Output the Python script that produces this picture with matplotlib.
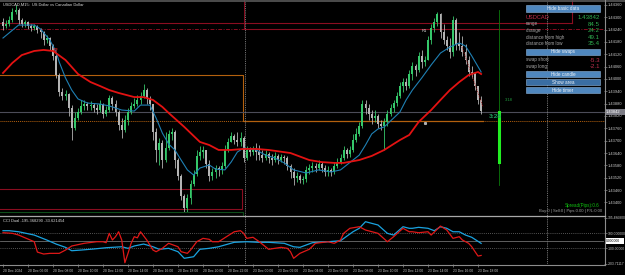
import matplotlib
matplotlib.use('Agg')
import matplotlib.pyplot as plt
from matplotlib.patches import Rectangle

plt.rcParams['font.family'] = ['Liberation Sans', 'DejaVu Sans']

W, H = 625, 275  # figure size in pixels

# USDCAD M15 bars, 20 Dec 04:00 .. 23 Dec 18:15 (open = previous close)
first_open = 1.44277
close = [1.44257, 1.44267, 1.44287, 1.44325, 1.44335, 1.44287, 1.44267, 1.44277, 1.44257, 1.44248,
         1.44257, 1.44238, 1.44228, 1.44189, 1.44199, 1.44160, 1.44112, 1.44019, 1.43937, 1.43917,
         1.43927, 1.43859, 1.43762, 1.43810, 1.43839, 1.43869, 1.43878, 1.43869, 1.43874, 1.43859,
         1.43849, 1.43878, 1.43830, 1.43849, 1.43908, 1.43878, 1.43839, 1.43776, 1.43752, 1.43801,
         1.43839, 1.43869, 1.43878, 1.43898, 1.43917, 1.43946, 1.43908, 1.43878, 1.43742, 1.43655,
         1.43689, 1.43606, 1.43664, 1.43733, 1.43742, 1.43606, 1.43528, 1.43431, 1.43373, 1.43421,
         1.43490, 1.43538, 1.43626, 1.43645, 1.43655, 1.43587, 1.43528, 1.43548, 1.43567, 1.43558,
         1.43577, 1.43655, 1.43694, 1.43723, 1.43703, 1.43694, 1.43713, 1.43616, 1.43655, 1.43645,
         1.43655, 1.43645, 1.43630, 1.43616, 1.43635, 1.43616, 1.43606, 1.43626, 1.43606, 1.43621,
         1.43616, 1.43577, 1.43548, 1.43519, 1.43528, 1.43509, 1.43514, 1.43558, 1.43567, 1.43577,
         1.43567, 1.43587, 1.43567, 1.43548, 1.43558, 1.43548, 1.43577, 1.43596, 1.43616, 1.43655,
         1.43635, 1.43655, 1.43703, 1.43733, 1.43771, 1.43878, 1.43859, 1.43830, 1.43810, 1.43820,
         1.43781, 1.43771, 1.43791, 1.43830, 1.43859, 1.43883, 1.43917, 1.43966, 1.43985, 1.43966,
         1.44024, 1.44063, 1.44044, 1.44112, 1.44082, 1.44092, 1.44189, 1.44248, 1.44277, 1.44316,
         1.44228, 1.44189, 1.44160, 1.44131, 1.44287, 1.44170, 1.44160, 1.44131, 1.44092, 1.44034,
         1.44024, 1.43966, 1.43898, 1.43842]
high = [1.44296, 1.44287, 1.44306, 1.44345, 1.44360, 1.44345, 1.44296, 1.44287, 1.44282, 1.44267,
        1.44267, 1.44262, 1.44248, 1.44233, 1.44214, 1.44204, 1.44170, 1.44121, 1.44029, 1.43956,
        1.43946, 1.43932, 1.43873, 1.43839, 1.43859, 1.43898, 1.43898, 1.43888, 1.43893, 1.43883,
        1.43878, 1.43898, 1.43883, 1.43869, 1.43922, 1.43917, 1.43898, 1.43849, 1.43810, 1.43825,
        1.43859, 1.43888, 1.43908, 1.43922, 1.43937, 1.43976, 1.43956, 1.43917, 1.43878, 1.43762,
        1.43713, 1.43703, 1.43742, 1.43752, 1.43762, 1.43752, 1.43616, 1.43538, 1.43441, 1.43441,
        1.43509, 1.43558, 1.43655, 1.43674, 1.43674, 1.43655, 1.43606, 1.43567, 1.43582, 1.43577,
        1.43596, 1.43679, 1.43713, 1.43742, 1.43733, 1.43742, 1.43742, 1.43723, 1.43674, 1.43669,
        1.43674, 1.43689, 1.43679, 1.43655, 1.43655, 1.43645, 1.43635, 1.43645, 1.43635, 1.43635,
        1.43630, 1.43626, 1.43587, 1.43567, 1.43548, 1.43538, 1.43528, 1.43577, 1.43587, 1.43596,
        1.43592, 1.43606, 1.43596, 1.43582, 1.43577, 1.43567, 1.43596, 1.43616, 1.43635, 1.43674,
        1.43664, 1.43674, 1.43733, 1.43762, 1.43791, 1.43898, 1.43898, 1.43878, 1.43849, 1.43849,
        1.43830, 1.43801, 1.43810, 1.43849, 1.43878, 1.43898, 1.43937, 1.43985, 1.44005, 1.44005,
        1.44044, 1.44082, 1.44073, 1.44131, 1.44141, 1.44112, 1.44209, 1.44267, 1.44296, 1.44325,
        1.44321, 1.44267, 1.44209, 1.44199, 1.44306, 1.44296, 1.44228, 1.44209, 1.44170, 1.44112,
        1.44063, 1.44034, 1.43966, 1.43917]
low = [1.44238, 1.44248, 1.44257, 1.44277, 1.44316, 1.44267, 1.44253, 1.44253, 1.44243, 1.44233,
       1.44238, 1.44223, 1.44199, 1.44165, 1.44175, 1.44141, 1.44092, 1.44005, 1.43917, 1.43898,
       1.43898, 1.43820, 1.43703, 1.43752, 1.43801, 1.43830, 1.43849, 1.43849, 1.43849, 1.43839,
       1.43830, 1.43839, 1.43810, 1.43820, 1.43839, 1.43849, 1.43820, 1.43752, 1.43713, 1.43742,
       1.43776, 1.43830, 1.43859, 1.43869, 1.43878, 1.43908, 1.43878, 1.43849, 1.43703, 1.43596,
       1.43582, 1.43567, 1.43596, 1.43655, 1.43703, 1.43567, 1.43509, 1.43412, 1.43349, 1.43353,
       1.43392, 1.43480, 1.43528, 1.43606, 1.43616, 1.43567, 1.43504, 1.43509, 1.43519, 1.43528,
       1.43538, 1.43567, 1.43645, 1.43694, 1.43684, 1.43674, 1.43674, 1.43596, 1.43606, 1.43626,
       1.43630, 1.43606, 1.43606, 1.43596, 1.43606, 1.43592, 1.43582, 1.43596, 1.43587, 1.43596,
       1.43587, 1.43558, 1.43519, 1.43485, 1.43499, 1.43494, 1.43490, 1.43499, 1.43538, 1.43548,
       1.43548, 1.43558, 1.43548, 1.43528, 1.43528, 1.43528, 1.43538, 1.43567, 1.43587, 1.43606,
       1.43616, 1.43621, 1.43645, 1.43694, 1.43723, 1.43762, 1.43830, 1.43801, 1.43781, 1.43791,
       1.43762, 1.43752, 1.43655, 1.43771, 1.43820, 1.43839, 1.43869, 1.43908, 1.43937, 1.43946,
       1.43956, 1.43995, 1.44014, 1.44034, 1.44053, 1.44063, 1.44092, 1.44170, 1.44228, 1.44257,
       1.44199, 1.44170, 1.44141, 1.44102, 1.44112, 1.44141, 1.44141, 1.44112, 1.44073, 1.44014,
       1.44005, 1.43946, 1.43878, 1.43830]

# moving averages read at selected bars
blue_idx = [0, 5, 10, 12, 15, 17, 18, 20, 22, 24, 27, 31, 34, 38, 42, 44, 47, 49, 51, 53,
            55, 57, 59, 61, 63, 66, 68, 71, 73, 75, 77, 81, 84, 87, 90, 93, 97, 101, 105, 108,
            110, 112, 114, 116, 118, 120, 122, 125, 127, 129, 131, 134, 137, 140, 143, 146, 148, 150, 153]
blue_ma = [1.44199, 1.44262, 1.44262, 1.44243, 1.44189, 1.44131, 1.44082, 1.44005, 1.43946, 1.43903,
           1.43883, 1.43878, 1.43869, 1.43849, 1.43844, 1.43873, 1.43873, 1.43810, 1.43737, 1.43684,
           1.43655, 1.43606, 1.43558, 1.43533, 1.43567, 1.43582, 1.43562, 1.43558, 1.43596, 1.43645,
           1.43664, 1.43655, 1.43630, 1.43616, 1.43592, 1.43558, 1.43543, 1.43558, 1.43548, 1.43558,
           1.43582, 1.43606, 1.43630, 1.43679, 1.43733, 1.43757, 1.43767, 1.43810, 1.43839, 1.43898,
           1.43946, 1.44005, 1.44068, 1.44126, 1.44155, 1.44175, 1.44160, 1.44112, 1.44034]
red_idx = [0, 3, 6, 10, 13, 16, 20, 24, 28, 31, 34, 37, 42, 45, 48, 51, 53, 58, 63, 66,
           69, 73, 77, 81, 85, 92, 98, 102, 106, 109, 114, 118, 122, 125, 127, 130, 133, 137, 140, 143,
           146, 149, 152, 153]
red_ma = [1.44029, 1.44078, 1.44116, 1.44136, 1.44141, 1.44136, 1.44092, 1.44024, 1.43985, 1.43966,
          1.43946, 1.43932, 1.43912, 1.43912, 1.43898, 1.43864, 1.43835, 1.43767, 1.43694, 1.43679,
          1.43655, 1.43655, 1.43660, 1.43660, 1.43655, 1.43640, 1.43606, 1.43596, 1.43592, 1.43592,
          1.43606, 1.43626, 1.43655, 1.43684, 1.43703, 1.43728, 1.43791, 1.43849, 1.43898, 1.43946,
          1.43985, 1.44019, 1.44034, 1.44024]

# CCI Dual values read at selected bars
cci_fast_idx = [0, 3, 5, 10, 11, 13, 15, 18, 20, 22, 26, 30, 32, 33, 34, 35, 36, 37, 38, 39,
                40, 41, 42, 43, 44, 46, 48, 49, 51, 53, 56, 57, 59, 60, 62, 64, 66, 67, 69, 74,
                76, 77, 78, 80, 82, 84, 85, 89, 91, 92, 93, 95, 98, 100, 104, 106, 108, 109, 111, 114,
                116, 120, 123, 125, 128, 130, 131, 133, 136, 137, 140, 142, 144, 146, 147, 149, 150, 152, 153]
cci_fast = [108, 100, 77, -12, -150, -176, -167, -167, -123, -69, -33, -12, -12, -25, 100, 11, 55, 121, 11, -292,
            -167, -33, 55, 40, 121, 11, -123, -145, -100, -33, -79, -145, -167, -123, -12, 33, 20, -12, -12, 121,
            135, 100, 33, 47, -12, -79, -113, -87, -100, -145, -233, -167, -113, -33, -12, -33, 11, 100, 167, 188,
            144, 100, -12, 55, 167, 121, 121, 108, 121, 77, 197, 144, 33, 55, 11, -33, -79, -203, -195]
cci_slow_idx = [0, 2, 5, 10, 14, 17, 20, 22, 25, 29, 33, 38, 40, 42, 45, 48, 50, 53, 56, 58,
                61, 63, 66, 69, 74, 78, 82, 85, 90, 93, 95, 99, 104, 108, 112, 114, 116, 120, 123, 125,
                128, 130, 131, 133, 136, 138, 140, 142, 144, 146, 148, 150, 153]
cci_slow = [135, 135, 121, 77, 11, -43, -87, -132, -123, -109, -92, -79, -100, -69, -43, -79, -113, -100, -145, -233,
            -212, -113, -100, -79, -20, -12, -20, -20, -33, -79, -87, -25, -12, 1, 121, 167, 255, 211, 100, 77,
            188, 167, 167, 180, 167, 135, 188, 167, 121, 121, 77, 47, -34]

price_ticks = [1.43400, 1.43460, 1.43520, 1.43580, 1.43640, 1.43700, 1.43760, 1.43820, 1.43880,
               1.43940, 1.44000, 1.44060, 1.44120, 1.44180, 1.44240, 1.44300, 1.44360]
cci_ticks = [305.4868, 100, -100, -303.7117]
cci_tick_labels = ['305.486800', '100.000000', '-100.00000', '-303.71117']
time_idx = list(range(0, 153, 8))
time_labels = ['20 Dec 2024', '20 Dec 06:00', '20 Dec 08:00', '20 Dec 10:00', '20 Dec 12:00',
               '20 Dec 14:00', '20 Dec 16:00', '20 Dec 18:00', '20 Dec 20:00', '20 Dec 22:00',
               '23 Dec 00:00', '23 Dec 02:00', '23 Dec 04:00', '23 Dec 06:00', '23 Dec 08:00',
               '23 Dec 10:00', '23 Dec 12:00', '23 Dec 14:00', '23 Dec 16:00', '23 Dec 18:00']

info_rows = [('range', '84.5'), ('change', '24.2'), ('distance from high', '49.1'), ('distance from low', '35.4')]
swap_rows = [('swap short', '-5.3'), ('swap long', '-2.1')]

BULL = '#35c86a'
BEAR = '#b4b4b4'
GRID = '#8c8c8c'

fig = plt.figure(figsize=(W / 100, H / 100), dpi=100, facecolor='black')


def px_axes(z):
    a = fig.add_axes([0, 0, 1, 1], zorder=z)
    a.set_xlim(0, W)
    a.set_ylim(H, 0)
    a.axis('off')
    a.patch.set_alpha(0)
    return a


bg = px_axes(0)
ax = fig.add_axes([0, 1 - 212 / H, 604 / W, 210 / H], zorder=1)
cci = fig.add_axes([0, 1 - 264 / H, 604 / W, 48 / H], zorder=1)
fg = px_axes(3)

# bar i sits at pixel 3 + 3.125 * i
x_left, x_right = -3 / 3.125, (604 - 3) / 3.125
for a in (ax, cci):
    a.patch.set_alpha(0)
    a.set_xlim(x_left, x_right)
    for s in a.spines.values():
        s.set_visible(False)

# ---- background objects (pixel space) ----
dred = '#8a0d20'
bg.plot([0, 572], [23, 23], color=dred, lw=0.8)
bg.plot([572, 572], [0, 23], color=dred, lw=0.8)
bg.plot([244, 244], [0, 28], color=dred, lw=0.7)
bg.plot([0, 604], [28.5, 28.5], color=dred, lw=0.7, ls=(0, (4, 1.5, 1, 1.5)))
bg.plot([244, 523], [28.5, 28.5], color=dred, lw=0.8)
orange = '#b3600e'
bg.plot([0, 243, 243], [75, 75, 121], color=orange, lw=0.8)
bg.plot([0, 604], [121, 121], color=orange, lw=0.7, ls=(0, (1, 1)))
bg.plot([244, 483], [121, 121], color=orange, lw=0.9)
bg.plot([0, 604], [112, 112], color='#4c4c58', lw=0.8)
bg.plot([0, 242, 242, 0], [189, 189, 209, 209], color=dred, lw=0.8)
bg.plot([0, 243, 243], [211.5, 211.5, 216], color='#0e4d1a', lw=0.8)
for sx in (245, 547):
    bg.plot([sx, sx], [2, 264], color='#9a9a9a', lw=0.6, ls=(0, (1, 1.2)))

# ---- candles ----
opens = [first_open] + close[:-1]
idx = list(range(len(close)))
cols = [BULL if c >= o else BEAR for o, c in zip(opens, close)]
ax.vlines(idx, low, high, colors=cols, lw=0.6, zorder=2)
ax.bar(idx, [max(abs(c - o), 0.00002) for o, c in zip(opens, close)],
       bottom=[min(o, c) for o, c in zip(opens, close)], width=0.62, color=cols, zorder=3)
ax.plot(blue_idx, blue_ma, color='#1f80b4', lw=0.8, zorder=4)
ax.plot(red_idx, red_ma, color='#e31212', lw=1.3, zorder=4)
ax.plot(16.6, 1.44141, marker='v', ms=2.5, mfc='none', mec='#e02020', mew=0.5, zorder=5)

p_top = 1.43820 + 114 * 0.0000486
p_bot = 1.43820 - 96 * 0.0000486
ax.set_ylim(p_bot, p_top)
ax.set_xticks([])
ax.yaxis.tick_right()
ax.set_yticks(price_ticks, ['%.5f' % p for p in price_ticks])
ax.tick_params(axis='y', length=2, width=0.5, color=GRID, labelsize=2.9, labelcolor='#c8c8c8', pad=1)

# ---- CCI Dual ----
cci.set_ylim(-309, 331)
for lv, st in ((100, (0, (1, 1.5))), (-100, (0, (1, 1.5))), (0, '-')):
    cci.axhline(lv, color='#6e6e6e', lw=0.6, ls=st)
cci.plot(cci_slow_idx, cci_slow, color='#1aa3e0', lw=0.9)
cci.plot(cci_fast_idx, cci_fast, color='#e01818', lw=0.9)
cci.yaxis.tick_right()
cci.set_yticks(cci_ticks, cci_tick_labels)
cci.tick_params(axis='y', length=2, width=0.5, color=GRID, labelsize=2.4, labelcolor='#c8c8c8', pad=1)
cci.set_xticks(time_idx, time_labels)
cci.tick_params(axis='x', length=2, width=0.5, color=GRID, labelsize=2.4, labelcolor='#c8c8c8', pad=1.5)
for t in cci.get_xticklabels():
    t.set_ha('left')

# ---- frame ----
fg.plot([0, W], [0.6, 0.6], color='#5a5a5a', lw=1.2)
fg.plot([604.5, 604.5], [0, 264.5], color=GRID, lw=0.8)
fg.plot([0, 604.5], [215.5, 215.5], color='#a8a8a8', lw=0.9)
fg.plot([0, 604.5], [264.5, 264.5], color=GRID, lw=0.8)
fg.add_patch(Rectangle((605, 109.2), 20, 5.8, fc='#7d7d86', ec='none'))
fg.text(606, 112.3, '1.43842', fontsize=2.9, color='white', va='center')
fg.add_patch(Rectangle((605, 238.2), 19, 5.6, fc='white', ec='none'))
fg.text(606, 241.1, '0.000000', fontsize=2.4, color='black', va='center')

fg.text(3, 5, 'USDCAD,M15:  US Dollar vs Canadian Dollar', fontsize=2.9, color='#d8d8d8', va='center')
fg.text(3, 221, 'CCI Dual -195.368290 -33.621454', fontsize=2.9, color='#d8d8d8', va='center')

# ---- info panel ----
def button(y0, label, fc='#4f87be'):
    fg.add_patch(Rectangle((526, y0), 74, 6.8, fc=fc, ec='#8db4da', lw=0.4))
    fg.text(563, y0 + 3.5, label, fontsize=3.3, color='#eef3f8', ha='center', va='center')


button(5, 'Hide basic data')
fg.text(526, 17.5, 'USDCAD', fontsize=4.1, color='#c32e4c', va='center')
fg.text(600, 17.5, '1.43842', fontsize=4.4, color='#2fae4f', ha='right', va='center')
for k, (lab, val) in enumerate(info_rows):
    yy = 24 + 6.6 * k
    fg.text(526, yy, lab, fontsize=3.3, color='#a8a8a8', va='center')
    fg.text(600, yy, val, fontsize=4.4, color='#2fae4f', ha='right', va='center')
button(48.5, 'Hide swaps')
for k, (lab, val) in enumerate(swap_rows):
    yy = 60 + 6.6 * k
    fg.text(526, yy, lab, fontsize=3.3, color='#a8a8a8', va='center')
    fg.text(600, yy, val, fontsize=4.4, color='#c0304f', ha='right', va='center')
button(70.5, 'Hide candle')
button(78.5, 'Show area', fc='#3a6ea3')
button(86.5, 'Hide timer')

# ---- timer / misc ----
fg.plot([499, 499], [10, 185], color='#0b7a0b', lw=0.6)
fg.plot([499, 499], [112, 162], color='#22ee22', lw=2.2)
fg.text(489, 116, '3:28', fontsize=4.6, color='#1fa060', fontweight='bold', va='center')
fg.text(505, 100, '3.18', fontsize=3, color='#22a040', va='center')
fg.text(422, 31, 'R1', fontsize=3, color='#dcdcdc', va='center')
fg.plot([462, 483], [47, 107], color='#a01010', lw=0.6, ls=(0, (1, 1)))
fg.plot([425], [123], marker='s', ms=1.2, color='#b0b0b0')
fg.text(600, 205, 'Spread(Pips):0.6', fontsize=3.3, color='#10c010', ha='right', va='center')
fg.text(602, 211, 'Buy:0 | Sell:0 | Pips:0.00 | P/L:0.00', fontsize=3, color='#a0a0a0', ha='right', va='center')

fig.savefig('out.png', dpi=100, facecolor='black')
